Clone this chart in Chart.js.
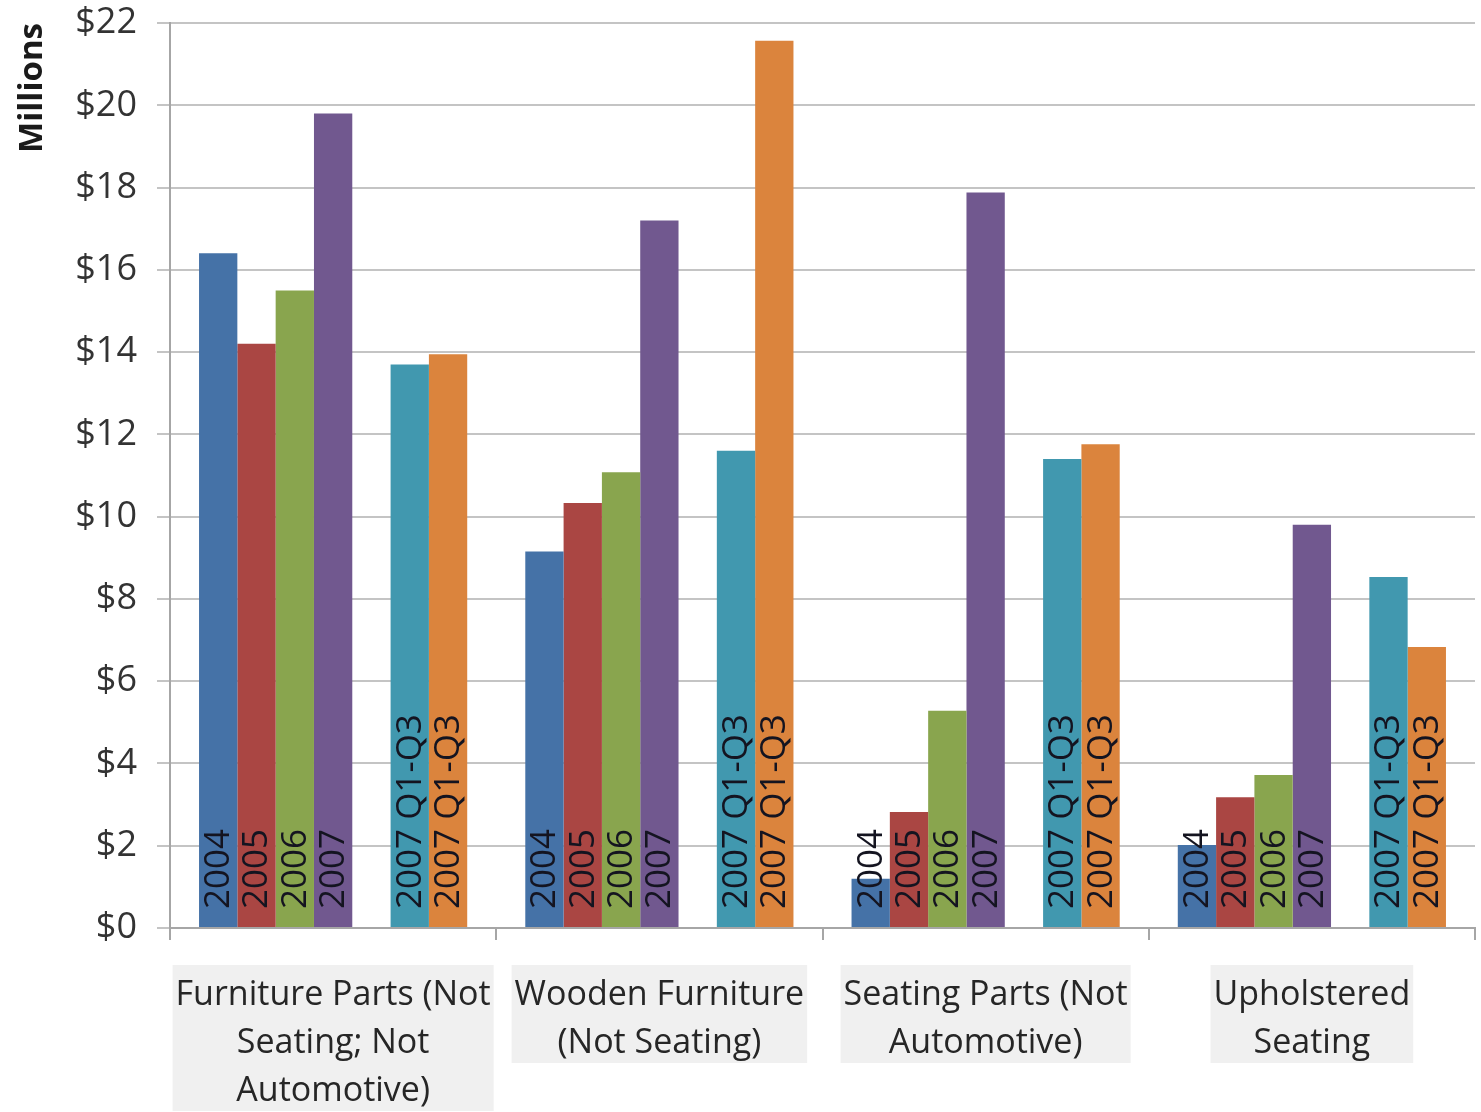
<!DOCTYPE html>
<html>
<head>
<meta charset="utf-8">
<script src="https://cdn.jsdelivr.net/npm/chart.js@4"></script>
<style>
  html, body { margin: 0; padding: 0; background: #fff; }
  #wrap { width: 1481px; height: 1112px; }
</style>
</head>
<body>
<div id="wrap"><canvas id="chart" width="1481" height="1112"></canvas></div>
<script>
const categories = [
  ['Furniture Parts (Not', 'Seating; Not', 'Automotive)'],
  ['Wooden Furniture', '(Not Seating)'],
  ['Seating Parts (Not', 'Automotive)'],
  ['Upholstered', 'Seating']
];
const seriesNames = ['2004', '2005', '2006', '2007', '', '2007 Q1-Q3', '2007 Q1-Q3'];
const v2004 = [16.4, 9.15, 1.2, 2.02];
const v2005 = [14.2, 10.33, 2.82, 3.18];
const v2006 = [15.5, 11.08, 5.28, 3.72];
const v2007 = [19.8, 17.2, 17.88, 9.8];
const vGap = [null, null, null, null];
const vQ1Q3a = [13.7, 11.6, 11.4, 8.53];
const vQ1Q3b = [13.95, 21.57, 11.76, 6.83];
const yTicks = [0, 2, 4, 6, 8, 10, 12, 14, 16, 18, 20, 22];

const colors = ['#4572A7', '#AA4643', '#89A54E', '#71588F', '#ffffff', '#4198AF', '#DB843D'];
const values = [v2004, v2005, v2006, v2007, vGap, vQ1Q3a, vQ1Q3b];

const FONT = '"Open Sans", "Liberation Sans", sans-serif';
const CAT_SIZE = 34;
const CAT_LH = 48;

// light grey boxes behind the category labels
const labelBoxes = {
  id: 'labelBoxes',
  beforeDraw(chart) {
    const ctx = chart.ctx;
    const x = chart.scales.x;
    const top = x.top + 37;
    ctx.save();
    ctx.font = CAT_SIZE + 'px ' + FONT;
    ctx.fillStyle = '#f0f0f0';
    categories.forEach((lines, i) => {
      const w = Math.max(...lines.map(l => ctx.measureText(l).width)) + 6;
      const cx = x.getPixelForTick(i);
      ctx.fillRect(cx - w / 2, top, w, lines.length * CAT_LH + 2);
    });
    ctx.restore();
  }
};

const barLabels = {
  id: 'barLabels',
  afterDatasetsDraw(chart) {
    const ctx = chart.ctx;
    ctx.save();
    ctx.font = '35px ' + FONT;
    ctx.fillStyle = '#141420';
    ctx.textAlign = 'left';
    ctx.textBaseline = 'middle';
    chart.data.datasets.forEach((ds, i) => {
      if (!ds.label) return;
      chart.getDatasetMeta(i).data.forEach((bar, j) => {
        if (ds.data[j] == null) return;
        ctx.save();
        ctx.translate(bar.x, bar.base - 18);
        ctx.rotate(-Math.PI / 2);
        ctx.fillText(ds.label, 0, 1);
        ctx.restore();
      });
    });
    ctx.restore();
  }
};

new Chart(document.getElementById('chart'), {
  type: 'bar',
  data: {
    labels: categories,
    datasets: values.map((d, i) => ({
      label: seriesNames[i],
      data: d,
      backgroundColor: colors[i],
      borderWidth: 0
    }))
  },
  options: {
    responsive: false,
    animation: false,
    devicePixelRatio: 1,
    layout: { padding: { top: 23, right: 6, left: 0, bottom: 0 } },
    datasets: {
      bar: { categoryPercentage: 0.822, barPercentage: 1.0 }
    },
    plugins: {
      legend: { display: false },
      tooltip: { enabled: false }
    },
    scales: {
      x: {
        afterFit(scale) { scale.height = 184; },
        grid: {
          offset: true,
          drawOnChartArea: false,
          tickLength: 12,
          color: '#a6a6a6',
          lineWidth: 2
        },
        border: { display: true, color: '#a6a6a6', width: 2 },
        ticks: {
          autoSkip: false,
          maxRotation: 0,
          minRotation: 0,
          padding: 31,
          color: '#262626',
          font: { family: FONT, size: CAT_SIZE, lineHeight: CAT_LH / CAT_SIZE }
        }
      },
      y: {
        min: 0,
        max: 22,
        afterFit(scale) {
          scale.width = 170;
          scale.paddingTop = 0;
          scale.paddingBottom = 0;
        },
        afterBuildTicks(scale) {
          const t = [];
          for (let v = 0; v <= 22; v++) t.push({ value: v });
          scale.ticks = t;
        },
        grid: {
          color: ctx => (ctx.tick && ctx.tick.value % 2 === 0) ? '#c4c4c4' : '#e4e4e4',
          tickColor: ctx => (ctx.tick && ctx.tick.value % 2 === 0) ? '#c4c4c4' : 'rgba(0,0,0,0)',
          lineWidth: 2,
          tickLength: 13
        },
        border: { display: true, color: '#a6a6a6', width: 2 },
        ticks: {
          padding: 20,
          color: '#333333',
          font: { family: FONT, size: 36 },
          callback: v => yTicks.includes(v) ? '$' + v : ''
        },
        title: {
          display: true,
          text: 'Millions',
          align: 'end',
          color: '#1a1a1a',
          font: { family: FONT, size: 33, weight: 'bold' },
          padding: { top: 13, bottom: 0 }
        }
      }
    }
  },
  plugins: [labelBoxes, barLabels]
});
</script>
</body>
</html>
